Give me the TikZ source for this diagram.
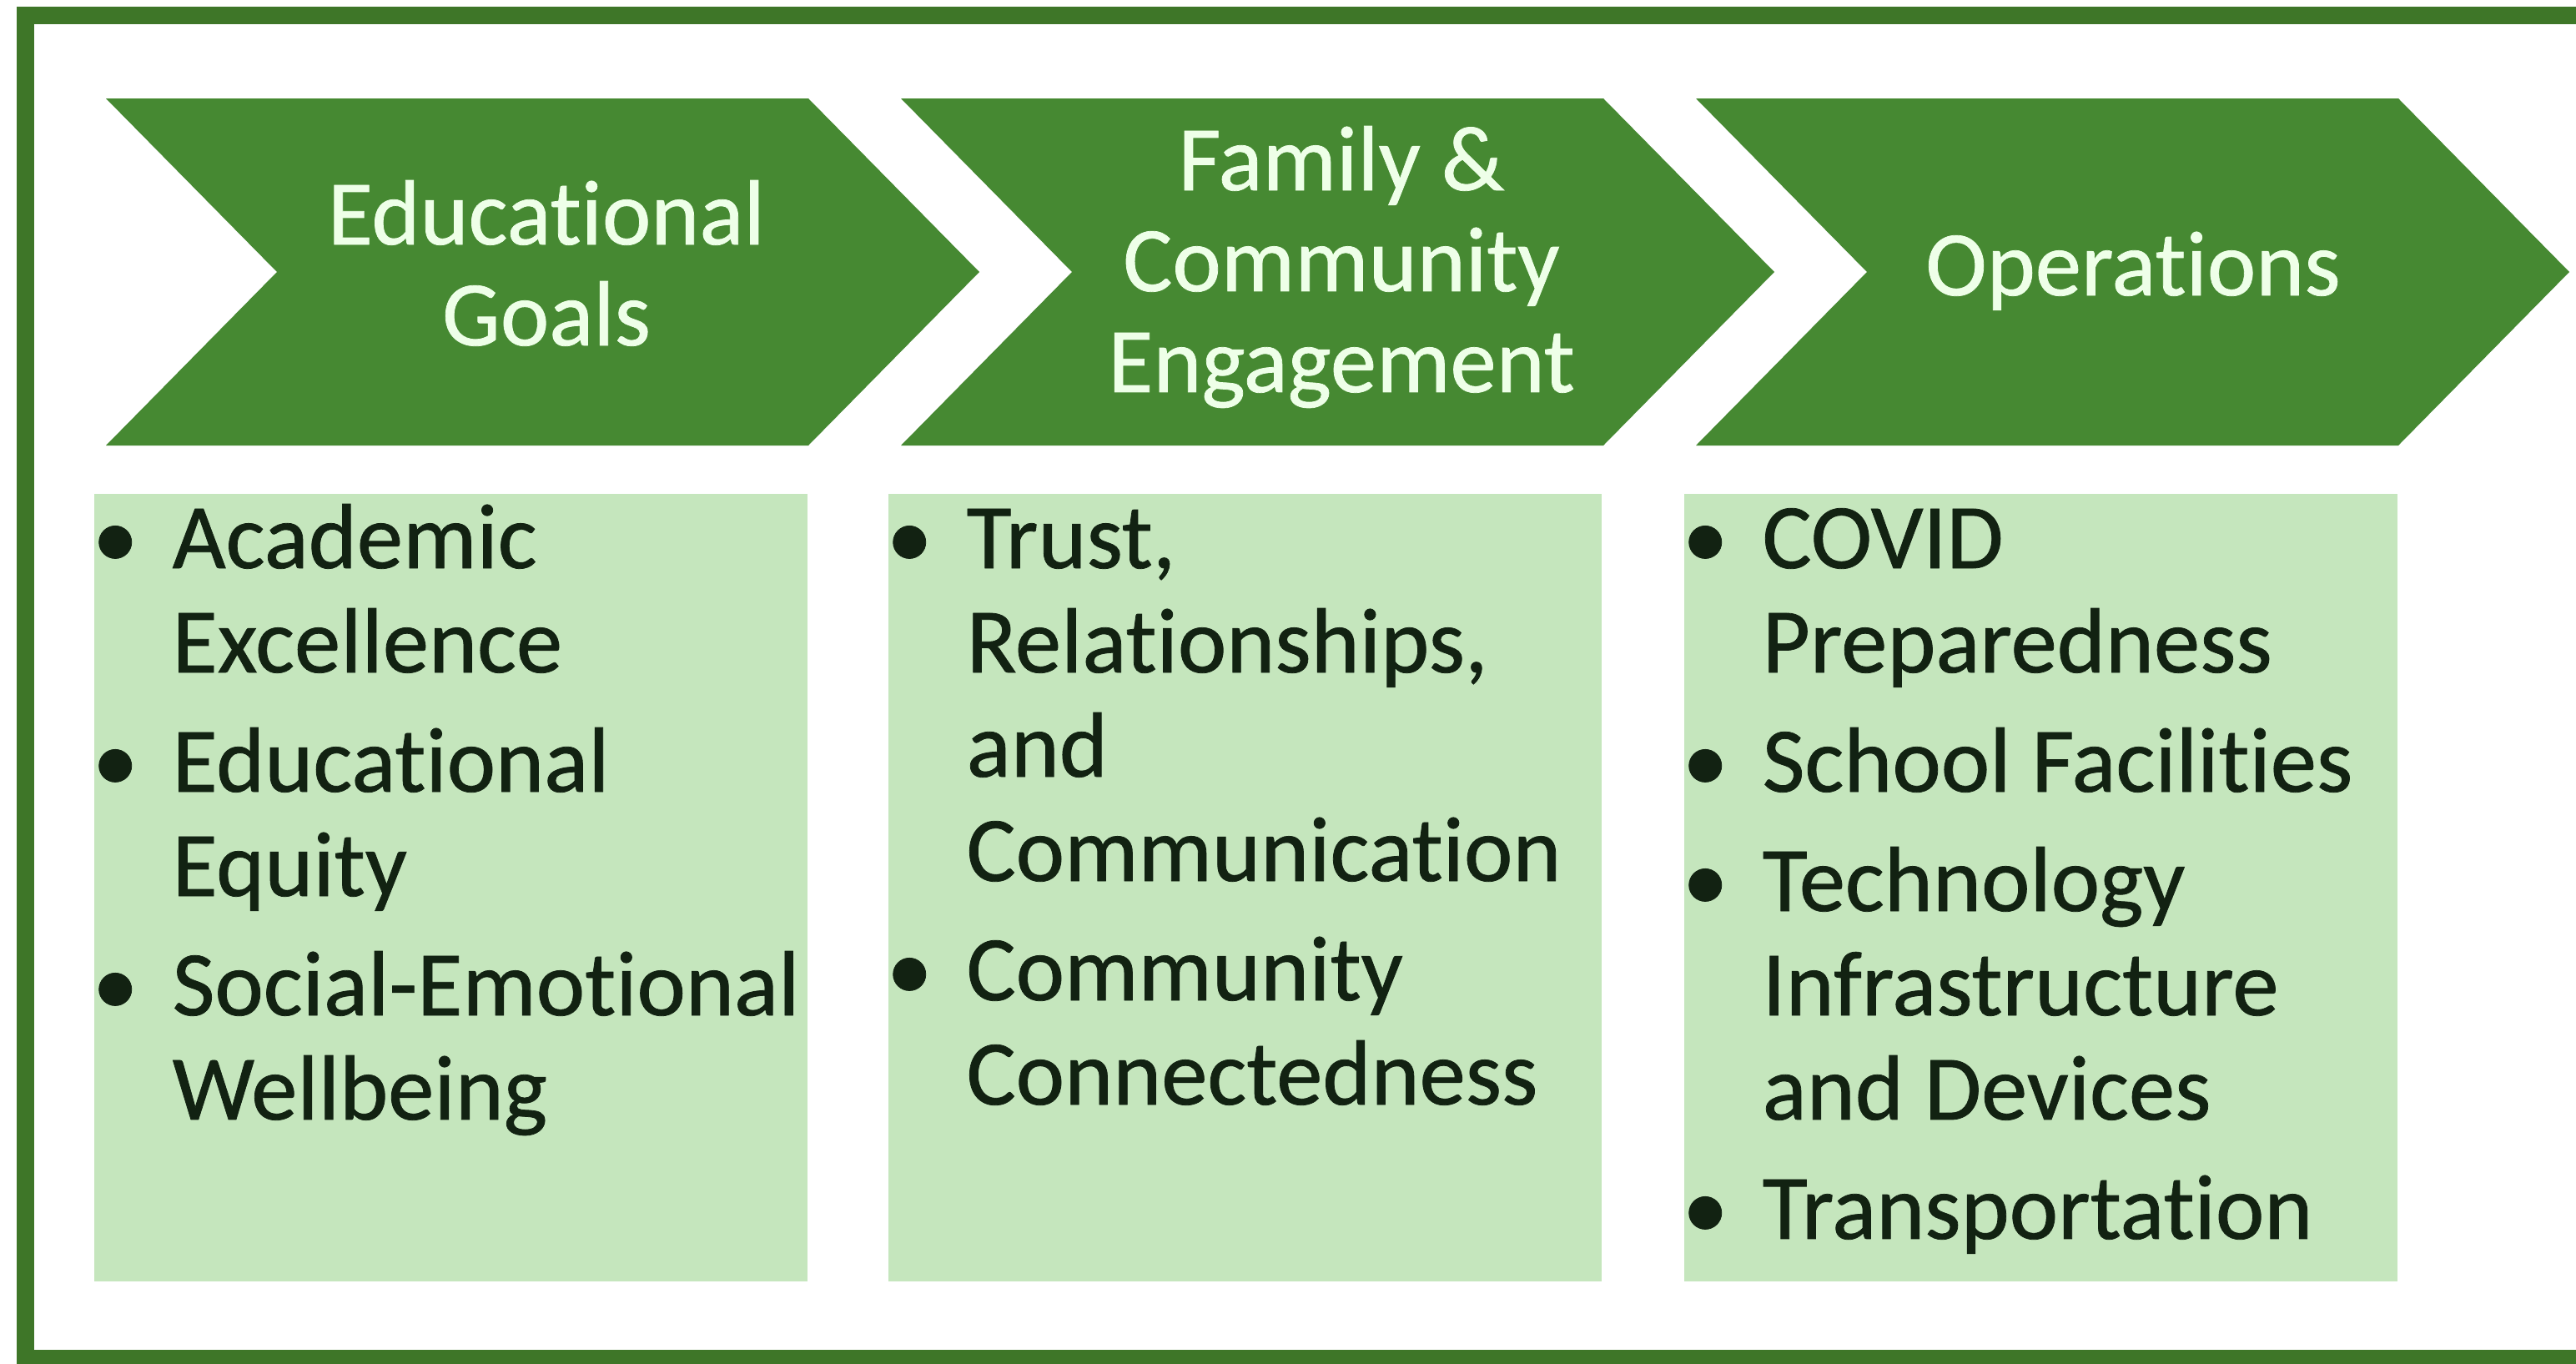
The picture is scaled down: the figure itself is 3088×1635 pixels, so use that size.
\documentclass[tikz,border=0pt]{standalone}
\usepackage{fontspec}
\setmainfont{Carlito}[Ligatures={NoCommon,NoRequired,NoContextual}]
\newfontfamily\diagfont{Carlito}[Ligatures={NoCommon,NoRequired,NoContextual}, FakeBold=0.7]
\definecolor{framegreen}{RGB}{62,118,40}
\definecolor{chevgreen}{RGB}{70,137,50}
\definecolor{boxgreen}{RGB}{197,230,189}
\definecolor{hdrtext}{RGB}{238,255,232}
\definecolor{bodytext}{RGB}{18,34,18}
\newcommand{\bgap}{\\[1.8mm]}
\begin{document}
\begin{tikzpicture}[x=0.1mm,y=-0.1mm,
  chev/.style={fill=chevgreen, draw=none},
  hdr/.style={text=hdrtext, font=\diagfont\fontsize{31.5pt}{12.1mm}\selectfont, inner sep=0pt, anchor=base},
  panel/.style={fill=boxgreen, draw=none, inner sep=0pt, anchor=north west,
                minimum width=85.5mm, minimum height=94.4mm},
  bodytxt/.style={text=bodytext, font=\diagfont\fontsize{31.5pt}{12.5mm}\selectfont, inner sep=0pt, anchor=base west},
  frame/.style={draw=framegreen, line width=2.1mm}
]
\useasboundingbox (0,0) rectangle (3088,1635);
\fill[white] (0,0) rectangle (3088,1635);
\draw[frame] (30,18) rectangle (3200,1628);

% chevrons
\fill[chev] (127,118) -- (969,118) -- (1174,326) -- (969,534) -- (127,534) -- (332,326) -- cycle;
\fill[chev] (1080,118) -- (1922,118) -- (2127,326) -- (1922,534) -- (1080,534) -- (1285,326) -- cycle;
\fill[chev] (2033,118) -- (2875,118) -- (3080,326) -- (2875,534) -- (2033,534) -- (2238,326) -- cycle;

\node[hdr] (h1) at (655,293) {\begin{tabular}[t]{@{}c@{}}Educational\\Goals\end{tabular}};
\node[hdr] (h2) at (1608,228) {\begin{tabular}[t]{@{}c@{}}Family \&\\Community\\Engagement\end{tabular}};
\node[hdr] (h3) at (2557,354) {Operations};

% panels
\node[panel] (p1) at (112,591) {};
\node[panel] (p2) at (1064,591) {};
\node[panel] (p3) at (2018,591) {};

\node[bodytxt] (t1) at (110,681) {\begin{tabular}[t]{@{}p{9.6mm}@{}l@{}}
•&Academic\\&Excellence\bgap
•&Educational\\&Equity\bgap
•&Social-Emotional\\&Wellbeing
\end{tabular}};
\node[bodytxt] (t2) at (1062,681) {\begin{tabular}[t]{@{}p{9.6mm}@{}l@{}}
•&Trust,\\&Relationships,\\&and\\&Communication\bgap
•&Community\\&Connectedness
\end{tabular}};
\node[bodytxt] (t3) at (2016,681) {\begin{tabular}[t]{@{}p{9.6mm}@{}l@{}}
•&COVID\\&Preparedness\bgap
•&School Facilities\bgap
•&Technology\\&Infrastructure\\&and Devices\bgap
•&Transportation
\end{tabular}};
\end{tikzpicture}
\end{document}
